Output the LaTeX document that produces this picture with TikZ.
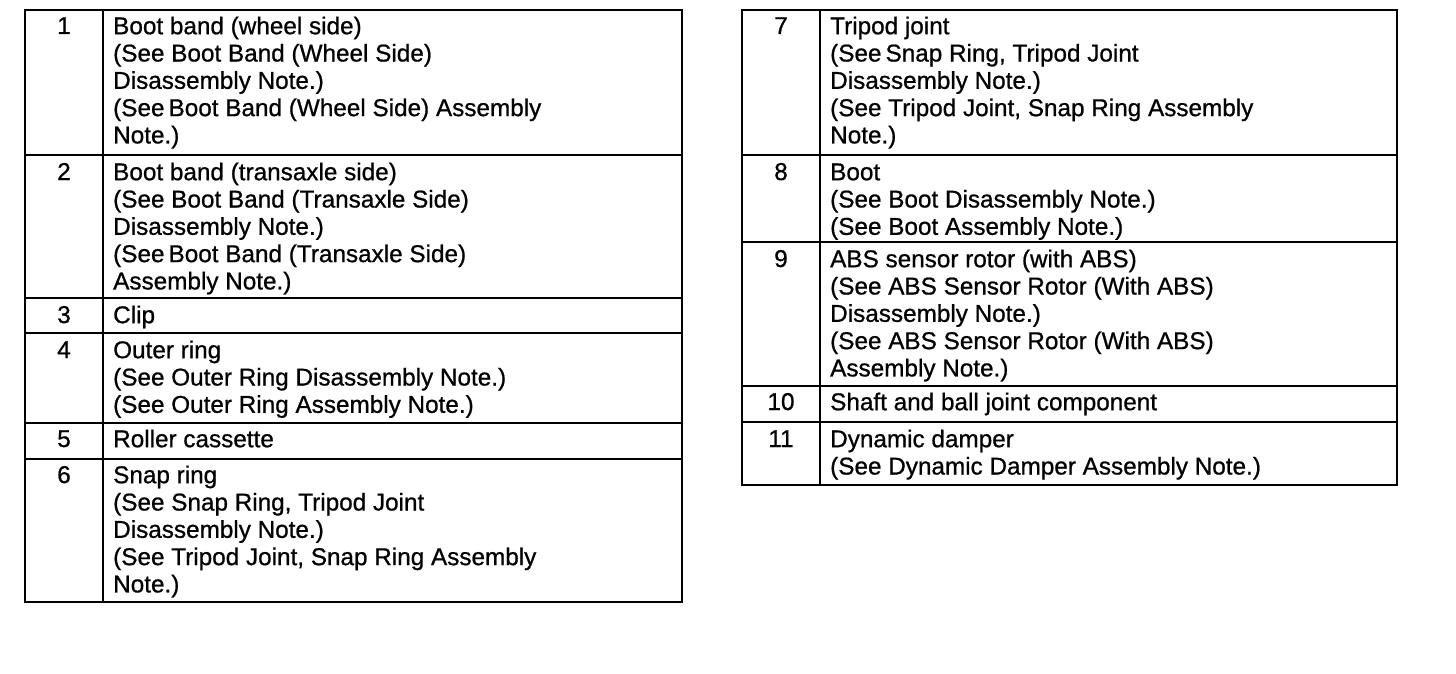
\documentclass[tikz,border=0pt]{standalone}
\usepackage{fontspec}
\setmainfont{Liberation Sans}[FakeBold=0.8]
\begin{document}
\begin{tikzpicture}[x=1pt,y=-1pt,
  grid/.style={line width=2.2pt},
  frame/.style={line width=2.8pt},
  num/.style={anchor=base,inner sep=0pt,font=\fontsize{24.3}{27.3}\selectfont},
  desc/.style={anchor=north west,inner sep=0pt,align=left,font=\fontsize{24.3}{27.3}\selectfont}]
\useasboundingbox (0,0) rectangle (1456,674);
% ---- left table
\draw[frame] (25,10) rectangle (682,602);
\draw[grid] (103,10) -- (103,602);
\foreach \yy in {155,298,333,423,459} \draw[grid] (25,\yy) -- (682,\yy);
% ---- right table
\draw[frame] (742,10) rectangle (1397,485);
\draw[grid] (820,10) -- (820,485);
\foreach \yy in {155,242,386,422} \draw[grid] (742,\yy) -- (1397,\yy);
% ---- left rows
\node[num] (n1) at (64,34) {1};
\node[desc] (t1) at (113,14.9) {\strut Boot band (wheel side)\\\strut (See Boot Band (Wheel Side)\\\strut Disassembly Note.)\\\strut (See\,Boot Band (Wheel Side) Assembly\\\strut Note.)};
\node[num] (n2) at (64,180) {2};
\node[desc] (t2) at (113,160.9) {\strut Boot band (transaxle side)\\\strut (See Boot Band (Transaxle Side)\\\strut Disassembly Note.)\\\strut (See\,Boot Band (Transaxle Side)\\\strut Assembly Note.)};
\node[num] (n3) at (64,323) {3};
\node[desc] (t3) at (113,303.9) {\strut Clip};
\node[num] (n4) at (64,358) {4};
\node[desc] (t4) at (113,338.9) {\strut Outer ring\\\strut (See Outer Ring Disassembly Note.)\\\strut (See Outer Ring Assembly Note.)};
\node[num] (n5) at (64,447) {5};
\node[desc] (t5) at (113,427.9) {\strut Roller cassette};
\node[num] (n6) at (64,483) {6};
\node[desc] (t6) at (113,463.9) {\strut Snap ring\\\strut (See Snap Ring, Tripod Joint\\\strut Disassembly Note.)\\\strut (See Tripod Joint, Snap Ring Assembly\\\strut Note.)};
% ---- right rows
\node[num] (n7) at (781,34) {7};
\node[desc] (t7) at (830,14.9) {\strut Tripod joint\\\strut (See\,Snap Ring, Tripod Joint\\\strut Disassembly Note.)\\\strut (See Tripod Joint, Snap Ring Assembly\\\strut Note.)};
\node[num] (n8) at (781,180) {8};
\node[desc] (t8) at (830,160.9) {\strut Boot\\\strut (See Boot Disassembly Note.)\\\strut (See Boot Assembly Note.)};
\node[num] (n9) at (781,267) {9};
\node[desc] (t9) at (830,247.9) {\strut ABS sensor rotor (with ABS)\\\strut (See ABS Sensor Rotor (With ABS)\\\strut Disassembly Note.)\\\strut (See ABS Sensor Rotor (With ABS)\\\strut Assembly Note.)};
\node[num] (n10) at (781,410) {10};
\node[desc] (t10) at (830,390.9) {\strut Shaft and ball joint component};
\node[num] (n11) at (781,447) {11};
\node[desc] (t11) at (830,427.9) {\strut Dynamic damper\\\strut (See Dynamic Damper Assembly Note.)};
\end{tikzpicture}
\end{document}
